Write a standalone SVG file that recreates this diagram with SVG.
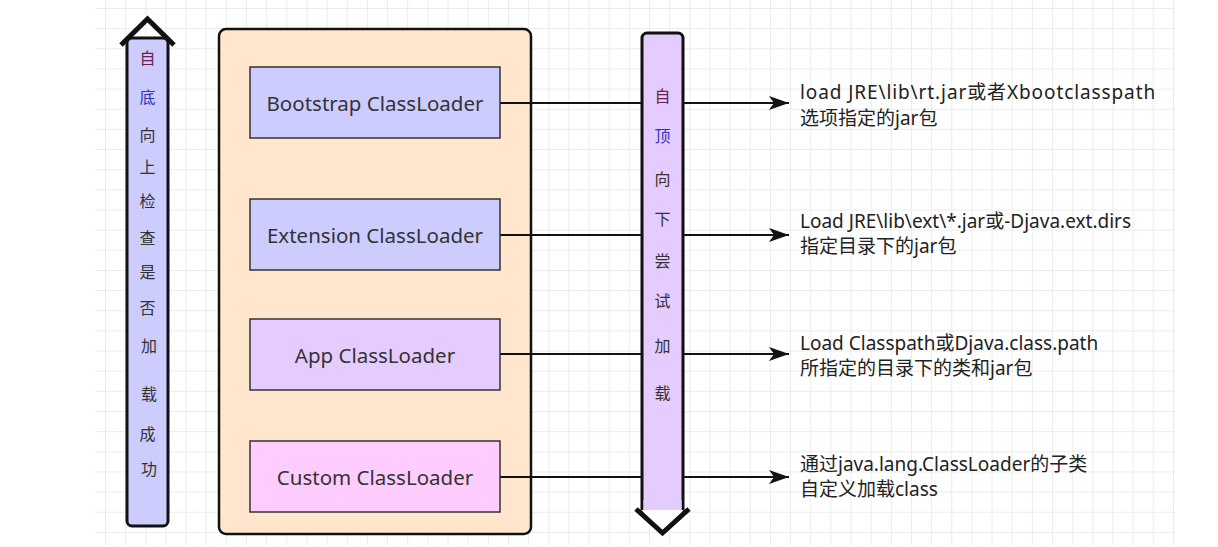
<svg xmlns="http://www.w3.org/2000/svg" width="1218" height="547" viewBox="0 0 1218 547">
  <style>
    .lbl { font-family: "Noto Sans", "Noto Sans CJK SC", sans-serif; font-size: 20.5px; fill: #333; text-anchor: middle; dominant-baseline: central; }
    .note { font-family: "Noto Sans", "Noto Sans CJK SC", sans-serif; font-size: 19px; fill: #222; }
    .vt { font-family: "Noto Sans CJK SC", sans-serif; font-size: 16px; fill: #333; text-anchor: middle; dominant-baseline: central; }
    .box { stroke: #333; stroke-width: 1.5; }
    .conn { stroke: #111; stroke-width: 2; fill: none; }
  </style>
  <defs>
    <pattern id="grid" x="4.25" y="8" width="20.15" height="20.15" patternUnits="userSpaceOnUse">
      <path d="M0 0.5 H20.15 M0.5 0 V20.15" stroke="#ebebeb" stroke-width="1" fill="none"/>
    </pattern>
    <marker id="arr" viewBox="0 0 20 14" refX="20" refY="7" markerWidth="20" markerHeight="14" markerUnits="userSpaceOnUse" orient="auto">
      <path d="M0 0 L20 7 L0 14 L5 7 Z" fill="#111"/>
    </marker>
  </defs>
  <rect width="1218" height="547" fill="#fff"/>
  <rect x="95" y="0" width="1080" height="545" fill="url(#grid)"/>

  <g id="up-arrow">
    <rect x="127" y="38" width="41" height="488" rx="5" fill="#ccccff" stroke="#111" stroke-width="3"/>
    <path d="M121 45 L147.5 19 L174 45" fill="none" stroke="#111" stroke-width="5" stroke-linejoin="miter"/>
    <text class="vt" x="147.5" y="57" style="fill:#6a1f4a">自</text>
    <text class="vt" x="147.5" y="96" style="fill:#3333bb">底</text>
    <text class="vt" x="147.5" y="134">向</text>
    <text class="vt" x="147.5" y="166">上</text>
    <text class="vt" x="147.5" y="200">检</text>
    <text class="vt" x="147.5" y="237">查</text>
    <text class="vt" x="147.5" y="271">是</text>
    <text class="vt" x="147.5" y="307">否</text>
    <text class="vt" x="149" y="345">加</text>
    <text class="vt" x="149" y="393">载</text>
    <text class="vt" x="147.5" y="433">成</text>
    <text class="vt" x="149" y="468">功</text>
  </g>

  <g id="container">
    <rect x="219" y="29" width="312" height="505" rx="7" fill="#ffe6cc" stroke="#111" stroke-width="2.5"/>
  </g>

  <g id="connectors">
    <line class="conn" x1="500" y1="103" x2="789" y2="103" marker-end="url(#arr)"/>
    <line class="conn" x1="500" y1="235" x2="789" y2="235" marker-end="url(#arr)"/>
    <line class="conn" x1="500" y1="354" x2="789" y2="354" marker-end="url(#arr)"/>
    <line class="conn" x1="500" y1="477" x2="789" y2="477" marker-end="url(#arr)"/>
  </g>

  <g id="bootstrap">
    <rect class="box" x="250" y="67" width="250" height="71" fill="#ccccff"/>
    <text class="lbl" x="375" y="103">Bootstrap ClassLoader</text>
  </g>
  <g id="extension">
    <rect class="box" x="250" y="199" width="250" height="71" fill="#ccccff"/>
    <text class="lbl" x="375" y="235">Extension ClassLoader</text>
  </g>
  <g id="app">
    <rect class="box" x="250" y="319" width="250" height="71" fill="#e5ccff"/>
    <text class="lbl" x="375" y="355">App ClassLoader</text>
  </g>
  <g id="custom">
    <rect class="box" x="250" y="441" width="250" height="71" fill="#ffccff"/>
    <text class="lbl" x="375" y="477">Custom ClassLoader</text>
  </g>

  <g id="down-arrow">
    <rect x="642" y="33" width="41" height="484" rx="5" fill="#e5ccff" stroke="#111" stroke-width="3"/>
    <rect x="643.5" y="500" width="38" height="20" fill="#e5ccff"/>
    <path d="M641 510 L662.5 530 L684 510 Z" fill="#fff"/>
    <path d="M636 509 L662.5 533 L689 509" fill="none" stroke="#111" stroke-width="5"/>
    <text class="vt" x="662.5" y="95" style="fill:#6a1f4a">自</text>
    <text class="vt" x="662.5" y="135" style="fill:#3333bb">顶</text>
    <text class="vt" x="662.5" y="178">向</text>
    <text class="vt" x="662.5" y="218">下</text>
    <text class="vt" x="662.5" y="260">尝</text>
    <text class="vt" x="662.5" y="300">试</text>
    <text class="vt" x="662.5" y="345">加</text>
    <text class="vt" x="662.5" y="392">载</text>
  </g>

  <g id="notes">
    <text class="note" x="800" y="99" style="letter-spacing:0.9px">load JRE\lib\rt.jar或者Xbootclasspath</text>
    <text class="note" x="800" y="125">选项指定的jar包</text>
    <text class="note" x="800" y="228">Load JRE\lib\ext\*.jar或-Djava.ext.dirs</text>
    <text class="note" x="800" y="253">指定目录下的jar包</text>
    <text class="note" x="800" y="350">Load Classpath或Djava.class.path</text>
    <text class="note" x="800" y="375">所指定的目录下的类和jar包</text>
    <text class="note" x="800" y="471">通过java.lang.ClassLoader的子类</text>
    <text class="note" x="800" y="496">自定义加载class</text>
  </g>
</svg>
